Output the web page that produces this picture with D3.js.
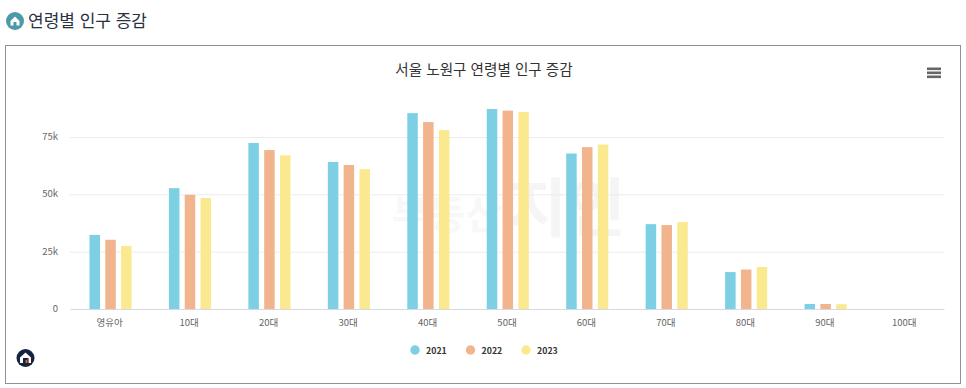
<!DOCTYPE html>
<html lang="ko">
<head>
<meta charset="utf-8">
<script src="https://cdn.jsdelivr.net/npm/d3@7"></script>
<style>
  html, body { margin: 0; padding: 0; background: #fff; }
  svg { display: block; font-family: "Noto Sans CJK KR", "Noto Sans", sans-serif; }
</style>
</head>
<body>
<div id="chart"></div>
<script>
// values
const categories = ["영유아", "10대", "20대", "30대", "40대", "50대", "60대", "70대", "80대", "90대", "100대"];
const years = ["2021", "2022", "2023"];
const values2021 = [32300, 52700, 72400, 64100, 85400, 87200, 67800, 37000, 16100, 2200, 0];
const values2022 = [30200, 49800, 69300, 62800, 81500, 86500, 70600, 36600, 17200, 2200, 0];
const values2023 = [27500, 48400, 67000, 61000, 78000, 85900, 71700, 37900, 18300, 2100, 0];
const yTicks = [0, 25000, 50000, 75000];
const colors = ["#7dd0e3", "#f2b48c", "#fbe98f"];

const seriesValues = [values2021, values2022, values2023];

const width = 966, height = 388;
const margin = { top: 80, right: 22, bottom: 79, left: 70 };
const innerW = width - margin.left - margin.right;
const innerH = height - margin.top - margin.bottom;

const svg = d3.select("#chart").append("svg")
    .attr("width", width)
    .attr("height", height);

// page heading
const headIcon = svg.append("g").attr("transform", "translate(15,21)");
headIcon.append("circle").attr("r", 9).attr("fill", "#4a9aa8");
headIcon.append("path").attr("d", "M-4.5,0 L0,-4.5 L4.5,0 L4.5,4.5 L1.5,4.5 L1.5,1 L-1.5,1 L-1.5,4.5 L-4.5,4.5 Z").attr("fill", "#fff");

svg.append("text")
    .attr("x", 28).attr("y", 26.5)
    .attr("font-size", "17px")
    .attr("fill", "#28323f")
    .text("연령별 인구 증감");

// chart frame
svg.append("rect")
    .attr("x", 5.5).attr("y", 45.5)
    .attr("width", 955).attr("height", 338)
    .attr("fill", "#fff")
    .attr("stroke", "#8b929b");

// watermark sits behind the bars
svg.append("text")
    .attr("x", 392).attr("y", 229)
    .attr("font-size", "40px").attr("font-weight", "700")
    .attr("fill", "#f8f8f8")
    .text("부동산");
svg.append("text")
    .attr("x", 508).attr("y", 231)
    .attr("font-size", "64px").attr("font-weight", "700")
    .attr("fill", "#f5f5f6")
    .text("지인");

svg.append("text")
    .attr("x", 484).attr("y", 74.5)
    .attr("text-anchor", "middle")
    .attr("font-size", "14.6px")
    .attr("fill", "#333333")
    .text("서울 노원구 연령별 인구 증감");

// hamburger menu
svg.append("g").selectAll("rect")
    .data([0, 1, 2])
    .enter()
    .append("rect")
    .attr("x", 927).attr("y", d => 67.5 + d * 4)
    .attr("width", 14).attr("height", 2.6)
    .attr("fill", "#666666");

const g = svg.append("g").attr("transform", `translate(${margin.left},${margin.top})`);

const x = d3.scaleBand().domain(categories).range([0, innerW]);
const x1 = d3.scaleBand().domain(years).range([x.bandwidth() / 2 - 23.7, x.bandwidth() / 2 + 23.7]);
const y = d3.scaleLinear().domain([0, 99900]).range([innerH, innerH - 99900 * 172 / 75000]);

// grid and y labels
g.append("g")
    .call(d3.axisLeft(y).tickValues(yTicks).tickSize(-innerW).tickPadding(12)
        .tickFormat(d => d === 0 ? "0" : d / 1000 + "k"))
    .call(a => a.select(".domain").remove())
    .call(a => a.selectAll("line").attr("stroke", d => d === 0 ? "none" : "#ececec"))
    .call(a => a.selectAll("text")
        .attr("x", -12)
        .attr("dy", "0.25em")
        .attr("fill", "#666666")
        .attr("font-size", "9.5px")
        .attr("font-family", '"Noto Sans CJK KR", sans-serif'));

// bars
const barW = 10.5;
const barNudge = 0.8;
years.forEach((year, i) => {
    g.selectAll(".bar-" + year)
        .data(categories.map((c, j) => ({ c, v: seriesValues[i][j] })))
        .enter()
        .append("rect")
        .attr("class", "bar-" + year)
        .attr("x", d => x(d.c) + x1(year) + x1.bandwidth() / 2 - barW / 2 + barNudge)
        .attr("y", d => y(d.v))
        .attr("width", barW)
        .attr("height", d => y(0) - y(d.v))
        .attr("fill", colors[i]);
});

// x axis
g.append("g")
    .attr("transform", `translate(0,${innerH})`)
    .call(d3.axisBottom(x).tickSize(0).tickPadding(10))
    .call(a => a.select(".domain").attr("stroke", "#d5d9e6"))
    .call(a => a.selectAll("text")
        .attr("fill", "#666666")
        .attr("font-size", "9.5px")
        .attr("font-family", '"Noto Sans CJK KR", sans-serif'));

// legend
const legendX = d3.scalePoint().domain(years).range([415, 526]);
const legend = svg.append("g").selectAll("g")
    .data(years)
    .enter()
    .append("g")
    .attr("transform", d => `translate(${legendX(d)},350)`);
legend.append("circle")
    .attr("r", 4.7)
    .attr("fill", (d, i) => colors[i]);
legend.append("text")
    .attr("x", 11).attr("y", 4)
    .attr("font-size", "8.8px").attr("font-weight", "700")
    .attr("fill", "#333333")
    .text(d => d);

// logo bottom left
const logo = svg.append("g").attr("transform", "translate(25.5,358)");
logo.append("circle").attr("r", 9).attr("fill", "#14233f");
logo.append("path").attr("d", "M-5.5,-0.5 L0,-5.5 L5.5,-0.5 L5.5,5 L-5.5,5 Z").attr("fill", "#fff");
logo.append("rect").attr("x", -2.5).attr("y", 0).attr("width", 5.5).attr("height", 5).attr("fill", "#14233f");
logo.append("rect").attr("x", 0).attr("y", 2).attr("width", 1.5).attr("height", 3).attr("fill", "#d9603a");
logo.append("rect").attr("x", 2).attr("y", 0.5).attr("width", 1.5).attr("height", 4.5).attr("fill", "#d9603a");
</script>
</body>
</html>
